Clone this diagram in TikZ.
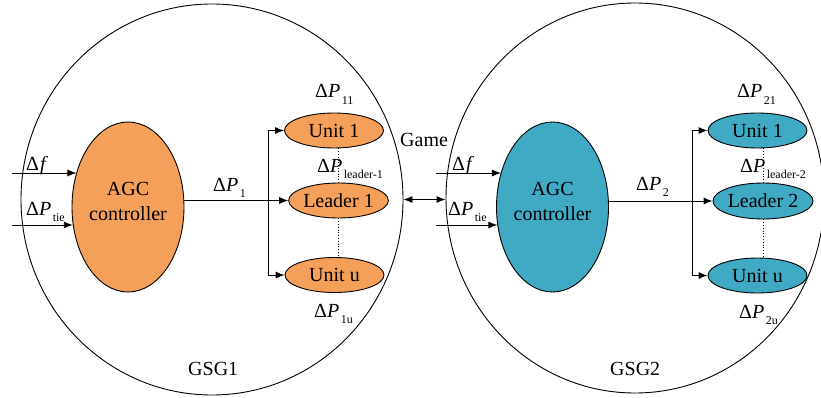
\documentclass[tikz,border=0pt]{standalone}
\usepackage{fontspec}
\setmainfont{Liberation Serif}
\usetikzlibrary{shapes.geometric,arrows.meta}
\definecolor{orng}{RGB}{245,160,90}
\definecolor{tealc}{RGB}{64,170,196}
\newcommand{\dP}[1]{Δ\textit{P}\kern1.5pt\raisebox{-6.5pt}{\fontsize{12}{12}\selectfont #1}}
\newcommand{\df}{Δ\kern1pt\textit{f}}
\begin{document}
\begin{tikzpicture}[x=1pt,y=-1pt, font=\fontsize{20}{25}\selectfont,
 big/.style={draw, ellipse, line width=0.9pt, inner sep=0},
 agc/.style={draw, ellipse, line width=0.9pt, minimum width=112pt, minimum height=170pt, inner sep=0},
 unitbox/.style={draw, ellipse, line width=0.9pt, minimum width=99pt, minimum height=35pt, inner sep=0},
 lbl/.style={anchor=base west, inner sep=0},
 arr/.style={-{Latex[length=9pt,width=7pt]}, line width=0.9pt},
 arr2/.style={{Latex[length=9pt,width=7pt]}-{Latex[length=9pt,width=7pt]}, line width=0.9pt}]
\useasboundingbox (0,0) rectangle (821,398);

% big circles
\node[big, minimum width=382pt, minimum height=391pt] (gsg1) at (212,199.5) {};
\node[big, minimum width=378pt, minimum height=390pt] (gsg2) at (635,198) {};

% AGC controllers
\node[agc, fill=orng] (agc1) at (128,207) {};
\node[align=center, inner sep=0] (agc1t) at (128,201) {AGC\\controller};
\node[agc, fill=tealc] (agc2) at (552.5,207) {};
\node[align=center, inner sep=0] (agc2t) at (552.5,201) {AGC\\controller};

% units left
\node[unitbox, fill=orng] (u11) at (334,130.5) {Unit 1};
\node[unitbox, fill=orng] (l1) at (338.5,200.5) {Leader 1};
\node[unitbox, fill=orng] (u1u) at (334.5,275) {Unit u};
% units right
\node[unitbox, fill=tealc] (u21) at (757.5,130.5) {Unit 1};
\node[unitbox, fill=tealc, minimum width=100pt, minimum height=36pt] (l2) at (763,201) {Leader 2};
\node[unitbox, fill=tealc] (u2u) at (757.5,275.5) {Unit u};

% inputs left
\coordinate (f1) at (12,173);
\coordinate (t1) at (12,225);
\draw[arr] (f1) -- (f1 -| agc1.146);
\draw[arr] (t1) -- (t1 -| agc1.198);
% inputs right
\coordinate (f2) at (436,173);
\coordinate (t2) at (436,225);
\draw[arr] (f2) -- (f2 -| agc2.146);
\draw[arr] (t2) -- (t2 -| agc2.198);

% outputs left
\coordinate (br1) at (268,200.5);
\draw[arr] (agc1.east |- l1.west) -- (l1.west);
\draw[arr] (br1) |- (u11.west);
\draw[arr] (br1) |- (u1u.west);
% outputs right
\coordinate (br2) at (692,201);
\draw[arr] (agc2.east |- l2.west) -- (l2.west);
\draw[arr] (br2) |- (u21.west);
\draw[arr] (br2) |- (u2u.west);

% dotted
\draw[dotted, line width=0.8pt] (l1.north |- u11.south) -- (l1.north);
\draw[dotted, line width=0.8pt] (l1.south) -- (l1.south |- u1u.north);
\draw[dotted, line width=0.8pt] (l2.north |- u21.south) -- (l2.north);
\draw[dotted, line width=0.8pt] (l2.south) -- (l2.south |- u2u.north);

% game
\draw[arr2] (gsg1.east) -- (gsg1.east -| gsg2.west);
\node[lbl] (game) at (400,147) {Game};

% labels
\node[lbl] (lf1) at (26,171) {\df};
\node[lbl] (lt1) at (26,215) {\dP{tie}};
\node[lbl] (lf2) at (452,171) {\df};
\node[lbl] (lt2) at (448,215) {\dP{tie}};
\node[lbl] (lp1) at (213,191) {\dP{1}};
\node[lbl] (lp2) at (636,190) {\dP{2}};
\node[lbl] (lp11) at (315,98) {\dP{11}};
\node[lbl] (lpl1) at (317,172) {\dP{leader-1}};
\node[lbl] (lp1u) at (314,317) {\dP{1u}};
\node[lbl] (lp21) at (737,98) {\dP{21}};
\node[lbl] (lpl2) at (740,172) {\dP{leader-2}};
\node[lbl] (lp2u) at (739,318) {\dP{2u}};
\node[lbl] (g1) at (188,375) {GSG1};
\node[lbl] (g2) at (610,375) {GSG2};
\end{tikzpicture}
\end{document}
